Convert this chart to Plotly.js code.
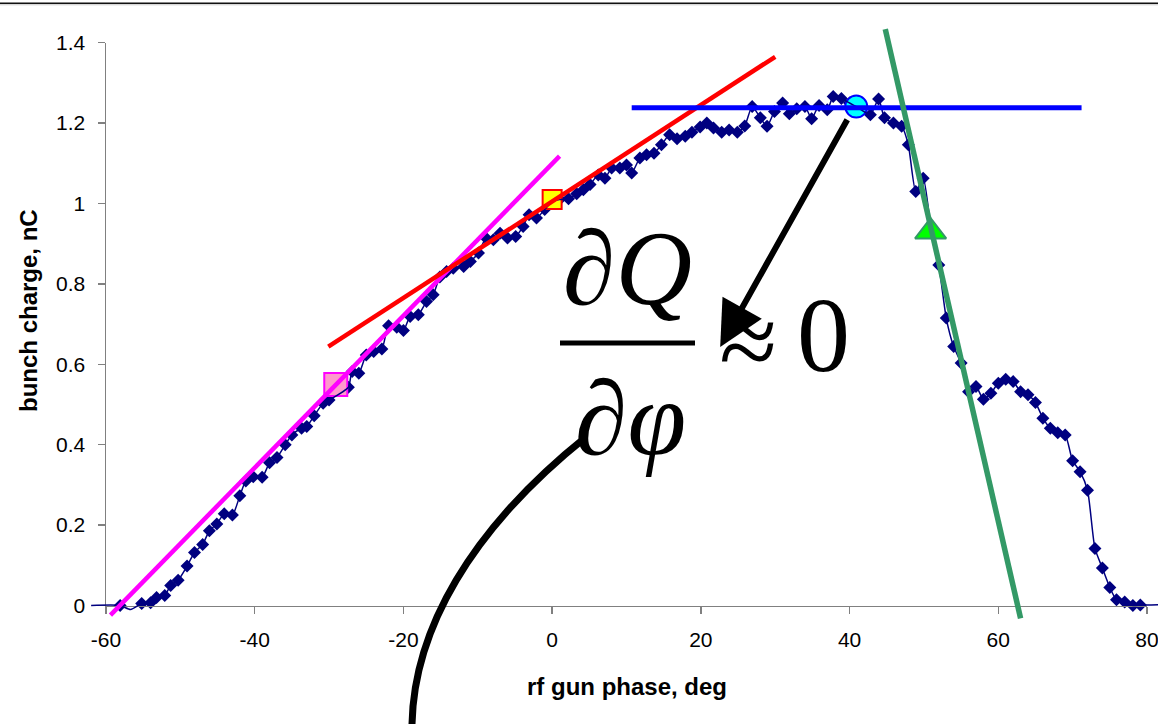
<!DOCTYPE html>
<html>
<head>
<meta charset="utf-8">
<script src="https://cdn.plot.ly/plotly-3.0.1.min.js"></script>
<style>
  html, body { margin: 0; padding: 0; background: #ffffff; }
  #chart { width: 1158px; height: 724px; }
</style>
</head>
<body>
<div id="chart"></div>
<script>
// Measured bunch charge versus rf gun phase
const phase = [
  -62.0, -58.1, -56.7, -55.2, -54.0, -53.2, -52.1, -51.3, -50.3, -49.1, -48.1, -47.0,
  -46.1, -45.1, -44.1, -43.0, -42.0, -41.2, -40.2, -39.0, -38.0, -37.0, -35.9, -35.0,
  -33.7, -33.0, -32.0, -30.8, -30.0, -27.4, -26.9, -26.0, -25.0, -24.0, -22.9, -22.0,
  -20.9, -20.0, -19.1, -18.0, -16.9, -16.0, -15.1, -14.2, -13.3, -11.9, -11.0, -9.9,
  -8.9, -7.9, -7.0, -6.0, -4.9, -3.9, -3.1, -2.1, -1.0, 0.0, 1.0, 2.2,
  3.3, 4.2, 5.1, 6.2, 7.1, 8.0, 9.1, 10.0, 10.7, 11.8, 12.7, 13.7,
  14.7, 15.8, 16.8, 17.9, 18.8, 19.9, 20.8, 21.7, 22.8, 23.8, 24.9, 25.9,
  26.9, 28.0, 28.9, 29.9, 31.0, 31.9, 32.9, 34.0, 34.9, 35.9, 37.0, 37.8,
  38.9, 40.0, 41.0, 42.8, 43.9, 44.7, 45.9, 47.0, 47.9, 48.9, 49.9, 51.0,
  52.0, 53.0, 54.0, 55.0, 56.0, 57.0, 58.0, 59.0, 60.0, 61.0, 62.0, 63.0,
  64.0, 65.0, 66.0, 67.0, 68.0, 69.0, 70.0, 71.0, 72.0, 73.0, 74.0, 75.0,
  75.9, 77.0, 78.1, 79.1, 81.5
];
const charge = [
  0.000, 0.000, -0.010, 0.005, 0.007, 0.020, 0.025, 0.050, 0.063, 0.098, 0.132, 0.152,
  0.186, 0.203, 0.228, 0.225, 0.273, 0.310, 0.320, 0.319, 0.355, 0.368, 0.400, 0.424,
  0.441, 0.445, 0.472, 0.503, 0.511, 0.543, 0.582, 0.578, 0.623, 0.632, 0.638, 0.696,
  0.692, 0.684, 0.719, 0.723, 0.756, 0.773, 0.817, 0.831, 0.839, 0.843, 0.856, 0.877,
  0.914, 0.910, 0.926, 0.914, 0.918, 0.943, 0.972, 0.964, 0.985, 1.005, 1.010, 1.012,
  1.024, 1.034, 1.047, 1.071, 1.063, 1.088, 1.088, 1.096, 1.076, 1.113, 1.121, 1.125,
  1.146, 1.171, 1.161, 1.167, 1.177, 1.190, 1.200, 1.188, 1.177, 1.183, 1.177, 1.193,
  1.241, 1.213, 1.192, 1.229, 1.250, 1.223, 1.236, 1.241, 1.211, 1.244, 1.233, 1.266,
  1.261, 1.250, 1.240, 1.221, 1.260, 1.213, 1.200, 1.192, 1.146, 1.030, 1.063, 0.930,
  0.847, 0.715, 0.644, 0.603, 0.532, 0.545, 0.513, 0.528, 0.553, 0.563, 0.557, 0.532,
  0.524, 0.505, 0.466, 0.441, 0.430, 0.424, 0.360, 0.333, 0.287, 0.142, 0.093, 0.045,
  0.014, 0.009, 0.000, 0.001, 0.002
];

// Tangent lines (end points) and the working points they touch
const magentaX = [-59.4, 1.0];
const magentaY = [-0.024, 1.118];
const redX = [-30.1, 30.0];
const redY = [0.644, 1.365];
const blueX = [10.7, 71.2];
const blueY = [1.238, 1.238];
const greenX = [44.8, 63.0];
const greenY = [1.434, -0.032];

const pinkPoint = { x: [-29.1], y: [0.550] };
const yellowPoint = { x: [0.0], y: [1.010] };
const cyanPoint = { x: [40.9], y: [1.241] };
const greenPoint = { x: [50.9], y: [0.930] };

// Arrow from the flat top down to the derivative
const arrowTail = { x: 39.8, y: 1.212 };
const arrowTip = { x: 22.6, y: 0.643 };

// Axis ticks
const xTicks = [-60, -40, -20, 0, 20, 40, 60, 80];
const xTickText = ['-60', '-40', '-20', '0', '20', '40', '60', '80'];
const yTicks = [0, 0.2, 0.4, 0.6, 0.8, 1.0, 1.2, 1.4];
const yTickText = ['0', '0.2', '0.4', '0.6', '0.8', '1', '1.2', '1.4'];
const X_RANGE = [-60, 80];
const Y_RANGE = [0, 1.4];

// Page geometry (pixels)
const W = 1158, H = 724;
const PLOT_L = 106, PLOT_R = 1147, PLOT_T = 42.7, PLOT_B = 605.5;

// A second, invisible axis pair covering the whole page with the same scale,
// so lines can run slightly past the frame like in the original figure.
const ppx = (PLOT_R - PLOT_L) / (X_RANGE[1] - X_RANGE[0]);
const ppy = (PLOT_B - PLOT_T) / (Y_RANGE[1] - Y_RANGE[0]);
const x2Range = [X_RANGE[0] - PLOT_L / ppx, X_RANGE[1] + (W - PLOT_R) / ppx];
const y2Range = [Y_RANGE[0] - (H - PLOT_B) / ppy, Y_RANGE[1] + PLOT_T / ppy];

const px = v => v / W;
const py = v => 1 - v / H;

// Markers only for points inside the axis frame
const inFrame = phase.map((p, i) => p >= X_RANGE[0] && p <= X_RANGE[1] && charge[i] >= 0);
const mPhase = phase.filter((p, i) => inFrame[i]);
const mCharge = charge.filter((c, i) => inFrame[i]);

const NAVY = '#000080';

const traces = [
  {
    x: phase, y: charge, xaxis: 'x2', yaxis: 'y2', mode: 'lines',
    line: { color: NAVY, width: 1.5, shape: 'spline', smoothing: 0.6 },
    hoverinfo: 'skip', showlegend: false
  },
  {
    x: magentaX, y: magentaY, xaxis: 'x2', yaxis: 'y2', mode: 'lines',
    line: { color: '#ff00ff', width: 4.5 }, showlegend: false
  },
  {
    x: redX, y: redY, xaxis: 'x2', yaxis: 'y2', mode: 'lines',
    line: { color: '#ff0000', width: 4.5 }, showlegend: false
  },
  {
    x: blueX, y: blueY, xaxis: 'x2', yaxis: 'y2', mode: 'lines',
    line: { color: '#0000ff', width: 5 }, showlegend: false
  },
  {
    x: greenX, y: greenY, xaxis: 'x2', yaxis: 'y2', mode: 'lines',
    line: { color: '#339966', width: 5.5 }, showlegend: false
  },
  {
    x: mPhase, y: mCharge, xaxis: 'x', yaxis: 'y', mode: 'markers', cliponaxis: false,
    marker: { symbol: 'diamond', size: 10, color: NAVY, line: { width: 0 } },
    showlegend: false
  },
  {
    x: pinkPoint.x, y: pinkPoint.y, mode: 'markers', cliponaxis: false,
    marker: { symbol: 'square', size: 23, color: '#ff99cc', line: { color: '#ff00ff', width: 2 } },
    showlegend: false
  },
  {
    x: yellowPoint.x, y: yellowPoint.y, mode: 'markers', cliponaxis: false,
    marker: { symbol: 'square', size: 19, color: '#ffff00', line: { color: '#ff0000', width: 2 } },
    showlegend: false
  },
  {
    x: cyanPoint.x, y: cyanPoint.y, mode: 'markers', cliponaxis: false,
    marker: { symbol: 'circle', size: 22, color: '#00ffff', line: { color: '#0000ff', width: 2 } },
    showlegend: false
  },
  {
    x: greenPoint.x, y: greenPoint.y, mode: 'markers', cliponaxis: false,
    marker: { symbol: 'triangle-up', size: 27, color: '#00ff00', line: { color: '#339966', width: 2 } },
    showlegend: false
  }
];

const tickFont = { family: 'Liberation Sans, Arial, sans-serif', size: 21, color: '#000000' };
const titleFont = { family: 'Liberation Sans, Arial, sans-serif', size: 24, color: '#000000' };
const mathFont = { family: 'Liberation Serif, Times New Roman, serif', size: 106, color: '#000000' };

// Curved pointer rising from below the axis into the derivative
const curve = 'M ' + px(412) + ',' + py(724) +
  ' C ' + px(414) + ',' + py(630) + ' ' + px(470) + ',' + py(530) + ' ' + px(586) + ',' + py(437);

const layout = {
  width: W, height: H, autosize: false,
  margin: { l: 0, r: 0, t: 0, b: 0, pad: 0 },
  paper_bgcolor: '#ffffff', plot_bgcolor: 'rgba(0,0,0,0)',
  showlegend: false,
  xaxis: {
    domain: [PLOT_L / W, PLOT_R / W], range: X_RANGE, anchor: 'y',
    tickvals: xTicks, ticktext: xTickText, tickfont: tickFont,
    ticks: 'outside', ticklen: 7, tickwidth: 1.5, tickcolor: '#808080',
    ticklabelstandoff: 8, ticklabeloverflow: 'allow',
    showline: true, linecolor: '#808080', linewidth: 1.5,
    showgrid: false, zeroline: false
  },
  yaxis: {
    domain: [(H - PLOT_B) / H, (H - PLOT_T) / H], range: Y_RANGE, anchor: 'x',
    tickvals: yTicks, ticktext: yTickText, tickfont: tickFont,
    ticks: 'outside', ticklen: 7, tickwidth: 1.5, tickcolor: '#808080',
    ticklabelstandoff: 8, ticklabeloverflow: 'allow',
    showline: true, linecolor: '#808080', linewidth: 1.5,
    showgrid: false, zeroline: false
  },
  xaxis2: {
    domain: [0, 1], range: x2Range, anchor: 'y2', visible: false,
    showgrid: false, zeroline: false
  },
  yaxis2: {
    domain: [0, 1], range: y2Range, anchor: 'x2', visible: false,
    showgrid: false, zeroline: false
  },
  shapes: [
    { type: 'line', xref: 'paper', yref: 'paper', x0: 0, x1: 1, y0: py(3.3), y1: py(3.3),
      line: { color: '#111111', width: 1.6 } },
    { type: 'line', xref: 'paper', yref: 'paper', x0: 0, x1: 1, y0: py(4.8), y1: py(4.8),
      line: { color: '#c8c8c8', width: 1 } },
    // fraction bar
    { type: 'line', xref: 'paper', yref: 'paper', x0: px(560), x1: px(695), y0: py(343), y1: py(343),
      line: { color: '#000000', width: 5 } },
    { type: 'path', xref: 'paper', yref: 'paper', path: curve,
      line: { color: '#000000', width: 7 } }
  ],
  annotations: [
    { xref: 'paper', yref: 'paper', x: px(626.5), y: py(686), text: '<b>rf gun phase, deg</b>',
      showarrow: false, font: titleFont, xanchor: 'center', yanchor: 'middle' },
    { xref: 'paper', yref: 'paper', x: px(29), y: py(311), text: '<b>bunch charge, nC</b>',
      showarrow: false, font: titleFont, textangle: -90, xanchor: 'center', yanchor: 'middle' },
    { xref: 'paper', yref: 'paper', x: px(627), y: py(268), text: '∂<i>Q</i>',
      showarrow: false, font: mathFont, xanchor: 'center', yanchor: 'middle' },
    { xref: 'paper', yref: 'paper', x: px(630), y: py(418), text: '∂<i>φ</i>',
      showarrow: false, font: mathFont, xanchor: 'center', yanchor: 'middle' },
    { xref: 'paper', yref: 'paper', x: px(748), y: py(341), text: '≈',
      showarrow: false, font: mathFont, xanchor: 'center', yanchor: 'middle' },
    { xref: 'paper', yref: 'paper', x: px(823), y: py(335), text: '0',
      showarrow: false, font: mathFont, xanchor: 'center', yanchor: 'middle' },
    { xref: 'x', yref: 'y', axref: 'x', ayref: 'y',
      x: arrowTip.x, y: arrowTip.y, ax: arrowTail.x, ay: arrowTail.y,
      text: '', showarrow: true, arrowhead: 2, arrowsize: 1.5, arrowwidth: 6, arrowcolor: '#000000',
      standoff: 0, startstandoff: 0 }
  ]
};

Plotly.newPlot('chart', traces, layout, { displayModeBar: false, staticPlot: true });
</script>
</body>
</html>
